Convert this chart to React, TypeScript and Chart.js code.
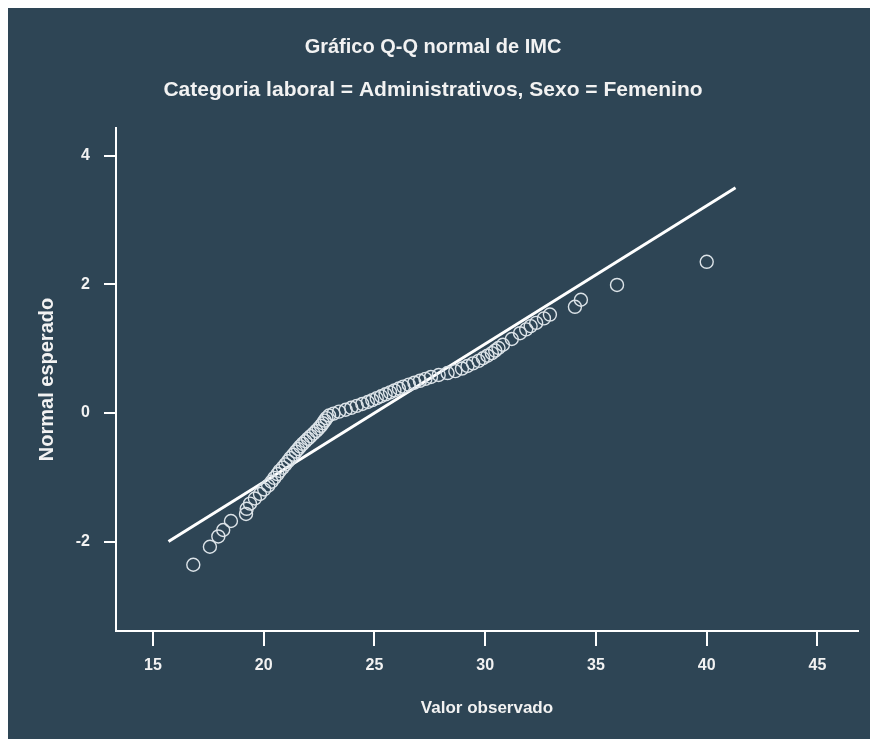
import React, { useEffect, useRef } from "react";
import { Chart, registerables } from "chart.js";

Chart.register(...registerables);

const titleText = "Gráfico Q-Q normal de IMC";
const subtitleText = "Categoria laboral = Administrativos, Sexo = Femenino";
const xAxisTitle = "Valor observado";
const yAxisTitle = "Normal esperado";

const observed = [
  16.82, 17.57, 17.95, 18.17, 18.52, 19.2, 19.23, 19.38, 19.6, 19.83,
  20.02, 20.2, 20.35, 20.48, 20.62, 20.72, 20.86, 20.98, 21.1, 21.2,
  21.33, 21.45, 21.55, 21.65, 21.76, 21.88, 22.0, 22.12, 22.25, 22.37,
  22.48, 22.58, 22.67, 22.75, 22.83, 22.95, 23.15, 23.4, 23.7, 23.95,
  24.2, 24.45, 24.7, 24.9, 25.1, 25.3, 25.5, 25.7, 25.9, 26.1,
  26.3, 26.55, 26.8, 27.05, 27.3, 27.55, 27.9, 28.3, 28.65, 28.95,
  29.2, 29.45, 29.7, 29.9, 30.1, 30.3, 30.45, 30.6, 30.8, 31.2,
  31.57, 31.85, 32.05, 32.3, 32.65, 32.92, 34.05, 34.32, 35.95, 40.0,
];

const expected = [
  -2.36, -2.08, -1.92, -1.82, -1.68, -1.57, -1.49, -1.41, -1.33, -1.26,
  -1.19, -1.13, -1.07, -1.01, -0.95, -0.9, -0.85, -0.8, -0.75, -0.7,
  -0.65, -0.6, -0.56, -0.52, -0.48, -0.44, -0.4, -0.36, -0.32, -0.28,
  -0.24, -0.2, -0.16, -0.12, -0.08, -0.04, -0.01, 0.02, 0.05, 0.08,
  0.11, 0.14, 0.17, 0.2, 0.23, 0.26, 0.29, 0.32, 0.35, 0.38,
  0.41, 0.44, 0.47, 0.5, 0.53, 0.56, 0.59, 0.62, 0.65, 0.69,
  0.73, 0.77, 0.81, 0.85, 0.89, 0.93, 0.97, 1.01, 1.06, 1.15,
  1.24, 1.3, 1.35, 1.4, 1.47, 1.53, 1.65, 1.76, 1.99, 2.35,
];

const lineObserved = [15.7, 41.3];
const lineExpected = [-2.0, 3.5];

const xTicks = [15, 20, 25, 30, 35, 40, 45];
const yTicks = [-2, 0, 2, 4];

const BG = "#2e4555";
const FG = "#f2f2f2";
const FONT = "'Liberation Sans', Arial, sans-serif";

export default function App() {
  const ref = useRef<HTMLCanvasElement | null>(null);

  useEffect(() => {
    document.documentElement.style.overflow = "hidden";
    document.body.style.overflow = "hidden";
    const canvas = ref.current;
    if (!canvas) return;

    const chart = new Chart(canvas, {
      type: "scatter",
      data: {
        datasets: [
          {
            type: "line",
            data: lineObserved.map((x, i) => ({ x, y: lineExpected[i] })),
            borderColor: "#ffffff",
            borderWidth: 3,
            pointRadius: 0,
            fill: false,
            order: 2,
          } as any,
          {
            type: "scatter",
            data: observed.map((x, i) => ({ x, y: expected[i] })),
            pointStyle: "circle",
            pointRadius: 6.5,
            pointBorderWidth: 1.4,
            pointBorderColor: "#dce3e8",
            pointBackgroundColor: "rgba(0,0,0,0)",
            order: 1,
          } as any,
        ],
      },
      options: {
        responsive: false,
        animation: false,
        layout: { padding: { left: 0, right: 14, top: 0, bottom: 0 } },
        plugins: {
          legend: { display: false },
          tooltip: { enabled: false },
          title: {
            display: true,
            text: titleText,
            color: FG,
            font: { family: FONT, size: 20, weight: "bold" },
            padding: { top: 27, bottom: 0 },
          },
          subtitle: {
            display: true,
            text: subtitleText,
            color: FG,
            font: { family: FONT, size: 21, weight: "bold" },
            padding: { top: 18.4, bottom: 25.4 },
          },
        },
        scales: {
          x: {
            type: "linear",
            min: 13.33,
            max: 46.83,
            afterBuildTicks: (s: any) => {
              s.ticks = xTicks.map((v) => ({ value: v }));
            },
            afterFit: (s: any) => {
              s.height = 108;
            },
            ticks: {
              color: FG,
              font: { family: FONT, size: 16, weight: "bold" },
              padding: 10,
              maxRotation: 0,
              autoSkip: false,
            },
            grid: {
              display: true,
              drawOnChartArea: false,
              drawTicks: true,
              tickLength: 15,
              color: "#ffffff",
              lineWidth: 2,
            },
            border: { display: true, color: "#ffffff", width: 2 },
            title: {
              display: true,
              text: xAxisTitle,
              color: FG,
              font: { family: FONT, size: 17, weight: "bold" },
              padding: { top: 0, bottom: 20.8 },
            },
          },
          y: {
            type: "linear",
            min: -3.39,
            max: 4.43,
            afterBuildTicks: (s: any) => {
              s.ticks = yTicks.map((v) => ({ value: v }));
            },
            afterFit: (s: any) => {
              s.width = 108;
            },
            ticks: {
              color: FG,
              font: { family: FONT, size: 16, weight: "bold" },
              padding: 14,
              autoSkip: false,
            },
            grid: {
              display: true,
              drawOnChartArea: false,
              drawTicks: true,
              tickLength: 12,
              color: "#ffffff",
              lineWidth: 2,
            },
            border: { display: true, color: "#ffffff", width: 2 },
            title: {
              display: true,
              text: yAxisTitle,
              color: FG,
              font: { family: FONT, size: 20, weight: "bold" },
              padding: { top: 27, bottom: 0 },
            },
          },
        },
      } as any,
    });

    return () => chart.destroy();
  }, []);

  return (
    <div style={{ width: 864, height: 731, background: BG }}>
      <canvas ref={ref} width={864} height={731} style={{ display: "block" }} />
    </div>
  );
}
